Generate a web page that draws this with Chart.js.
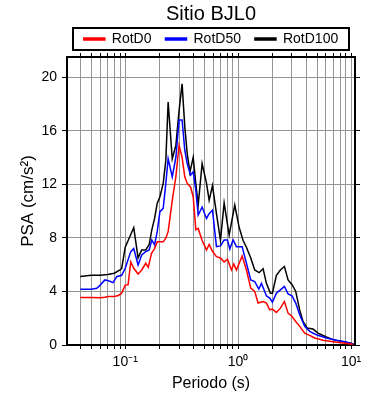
<!DOCTYPE html>
<html>
<head>
<meta charset="utf-8">
<script src="https://cdn.jsdelivr.net/npm/chart.js@4.4.1/dist/chart.umd.min.js"></script>
<style>
  html, body { margin: 0; padding: 0; background: #fff; }
</style>
</head>
<body>
<canvas id="psaChart" width="390" height="400"></canvas>
<script>
// Global font settings
Chart.defaults.font.family = "'Liberation Sans', Arial, sans-serif";
Chart.defaults.color = '#000';

const COLORS = {
    RED: '#ff0000',
    BLUE: '#0000ff',
    BLACK: '#000000',
    GRID: 'rgba(150, 150, 150, 1)'
};

// Spectra (period in s, PSA in cm/s2)
const periodsD0 = [0.04, 0.05, 0.06, 0.066, 0.071, 0.08, 0.087, 0.093, 0.1, 0.106, 0.112, 0.119, 0.13, 0.14, 0.152, 0.16,
    0.171, 0.182, 0.192, 0.203, 0.217, 0.229, 0.24, 0.261, 0.281, 0.30, 0.319, 0.337, 0.354, 0.379, 0.40, 0.422, 0.443,
    0.48, 0.525, 0.554, 0.593, 0.643, 0.698, 0.752, 0.805, 0.873, 0.916, 0.967, 1.085, 1.185, 1.294, 1.404, 1.503,
    1.664, 1.781, 1.906, 2.013, 2.184, 2.37, 2.57, 2.771, 3.006, 3.239, 3.513, 3.89, 4.308, 4.77, 5.652, 6.93, 8.497, 10.41];
const rotD0 = [3.55, 3.55, 3.52, 3.57, 3.62, 3.62, 3.7, 3.87, 4.47, 4.5, 6.2, 5.73, 5.3, 5.6, 6.1, 5.8,
    6.85, 7.2, 7.7, 7.7, 7.7, 7.97, 8.46, 10.8, 12.56, 14.9, 14.0, 12.56, 12.06, 11.8, 11.07, 8.6, 8.7,
    7.8, 7.1, 7.5, 7.0, 6.6, 6.5, 6.2, 6.4, 5.6, 6.05, 5.6, 6.65, 5.6, 4.25, 4.0, 3.13,
    3.25, 3.13, 2.63, 2.68, 2.43, 2.75, 3.25, 2.38, 2.13, 1.76, 1.39, 0.89, 0.72, 0.52, 0.35, 0.25, 0.15, 0.05];

const periodsD50 = [0.04, 0.05, 0.056, 0.06, 0.066, 0.071, 0.078, 0.084, 0.093, 0.1, 0.112, 0.119, 0.13, 0.14, 0.152, 0.163,
    0.172, 0.182, 0.192, 0.203, 0.217, 0.229, 0.24, 0.261, 0.281, 0.30, 0.319, 0.337, 0.354, 0.379, 0.40, 0.422, 0.443,
    0.48, 0.525, 0.554, 0.593, 0.643, 0.698, 0.752, 0.805, 0.844, 0.903, 0.967, 1.085, 1.185, 1.294, 1.404, 1.524,
    1.609, 1.781, 1.906, 2.013, 2.184, 2.37, 2.57, 2.771, 3.006, 3.239, 3.513, 3.89, 4.308, 4.934, 6.049, 7.419, 9.094, 10.56];
const rotD50 = [4.17, 4.17, 4.24, 4.47, 4.86, 4.8, 4.66, 5.1, 5.2, 5.73, 6.97, 7.2, 5.98, 6.72, 6.97, 7.1,
    7.84, 7.47, 8.46, 9.95, 10.2, 12.06, 13.9, 12.56, 14.0, 16.8, 16.8, 14.54, 13.55, 12.68, 12.93, 11.56, 9.7,
    10.3, 9.45, 9.8, 10.07, 7.34, 7.4, 7.84, 7.84, 7.17, 7.84, 7.34, 7.34, 6.1, 4.86, 4.74, 4.17,
    4.6, 3.67, 3.5, 3.2, 3.87, 4.12, 4.37, 3.82, 3.67, 3.13, 2.26, 1.39, 1.02, 0.77, 0.52, 0.35, 0.22, 0.05];

const periodsD100 = [0.04, 0.05, 0.06, 0.07, 0.08, 0.09, 0.093, 0.1, 0.11, 0.119, 0.13, 0.14, 0.152, 0.163, 0.172,
    0.182, 0.192, 0.203, 0.217, 0.229, 0.24, 0.261, 0.281, 0.30, 0.319, 0.337, 0.354, 0.374, 0.40, 0.422, 0.443,
    0.48, 0.525, 0.554, 0.593, 0.643, 0.698, 0.752, 0.833, 0.934, 1.02, 1.107, 1.185, 1.294, 1.404, 1.534,
    1.664, 1.781, 1.933, 2.013, 2.184, 2.37, 2.57, 2.771, 3.006, 3.239, 3.513, 3.76, 4.08, 4.61, 5.105, 6.049,
    6.93, 8.213, 9.732, 10.56];
const rotD100 = [5.11, 5.21, 5.2, 5.26, 5.36, 5.6, 5.7, 7.3, 8.1, 8.76, 6.5, 7.1, 7.1, 7.5, 8.6,
    9.45, 10.57, 11.07, 12.06, 13.8, 18.14, 13.9, 14.9, 17.5, 19.5, 16.3, 14.3, 12.9, 14.0, 12.06, 10.45,
    13.55, 12.06, 10.8, 11.9, 9.8, 7.8, 10.6, 8.2, 10.45, 8.8, 7.8, 7.3, 6.5, 5.6, 5.4,
    5.7, 4.6, 3.87, 3.87, 5.2, 5.6, 5.86, 4.86, 4.5, 4.0, 2.6, 1.76, 1.27, 1.19, 0.89, 0.6,
    0.4, 0.27, 0.15, 0.07];

// Axis ticks / grid positions
const xGridTicks = [0.04, 0.05, 0.06, 0.07, 0.08, 0.09, 0.1, 0.2, 0.3, 0.4, 0.5, 0.6, 0.7, 0.8, 0.9,
    1, 2, 3, 4, 5, 6, 7, 8, 9, 10];
const xTickLabels = { 0.1: '10\u207B\u00B9', 1: '10\u2070', 10: '10\u00B9' };
const X_MIN = 0.0305;
const X_MAX = 10.85;
const Y_MAX = 21.5;
const Y_STEP = 4;

function toPoints(periods, values) {
    return periods.map((p, i) => ({ x: p, y: values[i] }));
}

function setLogTicks(scale) {
    scale.ticks = xGridTicks.map(v => ({ value: v }));
}

// Draw the frame around the legend row
const legendFrame = {
    id: 'legendFrame',
    afterDraw(chart) {
        const lg = chart.legend;
        if (!lg) return;
        const ctx = chart.ctx;
        const cy = lg.top + 14 + 7;  // label padding + half the font size
        ctx.save();
        ctx.strokeStyle = '#000';
        ctx.lineWidth = 2;
        ctx.strokeRect(lg.left + 6, cy - 11, lg.right - lg.left - 12, 22);
        ctx.restore();
    }
};

function lineDataset(label, periods, values, color) {
    return {
        label: label,
        data: toPoints(periods, values),
        borderColor: color,
        backgroundColor: color,
        borderWidth: 1.5,
        pointRadius: 0,
        tension: 0,
        xAxisID: 'x',
        yAxisID: 'y'
    };
}

new Chart(document.getElementById('psaChart'), {
    type: 'line',
    data: {
        datasets: [
            lineDataset('RotD0', periodsD0, rotD0, COLORS.RED),
            lineDataset('RotD50', periodsD50, rotD50, COLORS.BLUE),
            lineDataset('RotD100', periodsD100, rotD100, COLORS.BLACK)
        ]
    },
    options: {
        responsive: false,
        animation: false,
        events: [],
        layout: { padding: 0 },
        plugins: {
            title: {
                display: true,
                text: 'Sitio BJL0',
                fullSize: false,
                color: '#000',
                font: { size: 20, weight: 'normal', lineHeight: 1.2 },
                padding: { top: 2, bottom: -8 }
            },
            legend: {
                position: 'top',
                fullSize: false,
                labels: {
                    boxWidth: 21,
                    boxHeight: 2,
                    padding: 14,
                    color: '#000',
                    font: { size: 14 }
                }
            },
            tooltip: { enabled: false }
        },
        scales: {
            x: {
                type: 'logarithmic',
                position: 'bottom',
                min: X_MIN,
                max: X_MAX,
                afterBuildTicks: setLogTicks,
                afterFit: (s) => { s.height = 55; },
                ticks: {
                    autoSkip: false,
                    maxRotation: 0,
                    padding: 5,
                    color: '#000',
                    font: { size: 14 },
                    callback: (v) => xTickLabels[v] || ''
                },
                grid: { color: COLORS.GRID, tickColor: '#000', tickLength: 4 },
                border: { color: '#000', width: 2 },
                title: {
                    display: true,
                    text: 'Periodo (s)',
                    color: '#000',
                    font: { size: 16 },
                    padding: { top: 0, bottom: 7 }
                }
            },
            x2: {
                type: 'logarithmic',
                position: 'top',
                min: X_MIN,
                max: X_MAX,
                afterBuildTicks: setLogTicks,
                afterFit: (s) => { s.height = 1; },
                ticks: { display: false },
                grid: { drawOnChartArea: false, tickColor: '#000', tickLength: 4 },
                border: { color: '#000', width: 2 }
            },
            y: {
                position: 'left',
                min: 0,
                max: Y_MAX,
                afterFit: (s) => { s.width = 67; },
                ticks: {
                    stepSize: Y_STEP,
                    includeBounds: false,
                    padding: 5,
                    color: '#000',
                    font: { size: 14 }
                },
                grid: { color: COLORS.GRID, tickColor: '#000', tickLength: 5 },
                border: { color: '#000', width: 2 },
                title: {
                    display: true,
                    text: 'PSA (cm/s\u00B2)',
                    color: '#000',
                    font: { size: 17 },
                    padding: { top: 18, bottom: 0 }
                }
            },
            y2: {
                position: 'right',
                min: 0,
                max: Y_MAX,
                afterFit: (s) => { s.width = 35; },
                ticks: { display: false, stepSize: Y_STEP, includeBounds: false },
                grid: { drawOnChartArea: false, tickColor: '#000', tickLength: 5 },
                border: { color: '#000', width: 2 }
            }
        }
    },
    plugins: [legendFrame]
});
</script>
</body>
</html>
